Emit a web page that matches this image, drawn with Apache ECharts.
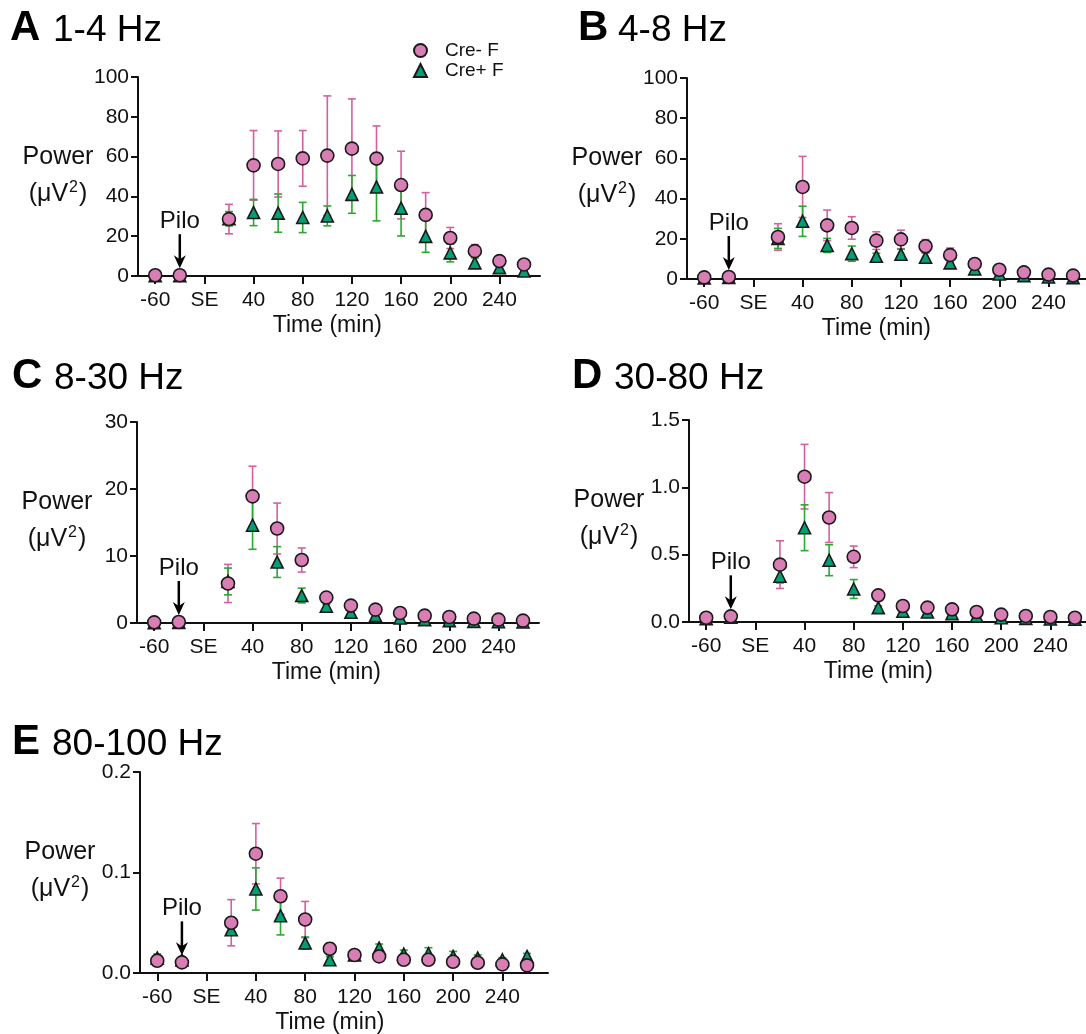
<!DOCTYPE html>
<html>
<head>
<meta charset="utf-8">
<script src="https://cdn.jsdelivr.net/npm/echarts@6/dist/echarts.min.js"></script>
<style>
  html, body { margin: 0; padding: 0; background: #fff; }
  #chart { width: 1086px; height: 1034px; }
</style>
</head>
<body>
<div id="chart"></div>
<script>
// x slots: -60 baseline, Pilo, then 20..260 min after SE onset
var slotX = [-40, -20, 20, 40, 60, 80, 100, 120, 140, 160, 180, 200, 220, 240, 260];
var tickX = [-40, 0, 40, 80, 120, 160, 200, 240];
var tickLabels = ['-60', 'SE', '40', '80', '120', '160', '200', '240'];
var piloX = -20;

// 1-4 Hz
var aNegMean = [0.4, 0.4, 28.6, 55.6, 56.3, 59.1, 60.5, 64.0, 59.0, 45.7, 30.7, 19.1, 12.5, 7.5, 5.8];
var aNegSem  = [0.3, 0.3, 7.4, 17.5, 16.6, 14.0, 30.0, 25.0, 16.4, 17.0, 11.2, 5.3, 3.3, 1.2, 1.0];
var aPosMean = [0.2, 0.2, 28.8, 31.9, 31.6, 29.4, 30.2, 41.0, 44.7, 34.1, 19.9, 11.6, 6.6, 4.2, 2.5];
var aPosSem  = [0.2, 0.2, 3.6, 6.6, 9.6, 7.6, 5.0, 9.5, 17.0, 14.0, 8.0, 4.5, 2.5, 1.0, 0.8];
// 4-8 Hz
var bNegMean = [0.8, 1.0, 20.9, 45.8, 26.7, 25.4, 19.1, 19.7, 16.3, 11.9, 7.5, 4.6, 3.3, 2.2, 1.7];
var bNegSem  = [0.3, 0.3, 6.6, 15.2, 7.6, 5.6, 4.4, 4.6, 3.3, 3.5, 2.0, 1.0, 0.8, 0.6, 0.5];
var bPosMean = [0.5, 0.8, 20.2, 28.7, 16.7, 12.6, 11.3, 12.3, 10.8, 8.0, 5.0, 2.5, 1.7, 1.0, 0.7];
var bPosSem  = [0.2, 0.3, 5.0, 7.5, 3.5, 3.8, 1.5, 2.5, 2.2, 1.6, 1.0, 0.5, 0.4, 0.3, 0.2];
// 8-30 Hz
var cNegMean = [0.1, 0.15, 5.9, 18.9, 14.1, 9.4, 3.8, 2.6, 2.0, 1.5, 1.1, 0.9, 0.65, 0.5, 0.35];
var cNegSem  = [0.05, 0.05, 2.85, 4.5, 3.8, 1.8, 0.3, 0.3, 0.2, 0.2, 0.15, 0.1, 0.1, 0.1, 0.05];
var cPosMean = [0.05, 0.1, 6.2, 14.6, 9.1, 4.1, 2.5, 1.6, 1.1, 0.75, 0.5, 0.35, 0.25, 0.2, 0.15];
var cPosSem  = [0.03, 0.05, 2.0, 3.6, 2.3, 1.1, 0.3, 0.2, 0.15, 0.1, 0.1, 0.05, 0.05, 0.05, 0.03];
// 30-80 Hz
var dNegMean = [0.032, 0.042, 0.426, 1.079, 0.776, 0.484, 0.198, 0.119, 0.107, 0.094, 0.074, 0.055, 0.045, 0.037, 0.032];
var dNegSem  = [0.005, 0.006, 0.177, 0.24, 0.185, 0.08, 0.015, 0.03, 0.012, 0.01, 0.01, 0.008, 0.006, 0.005, 0.004];
var dPosMean = [0.025, 0.035, 0.34, 0.70, 0.459, 0.245, 0.107, 0.08, 0.074, 0.062, 0.045, 0.032, 0.027, 0.022, 0.02];
var dPosSem  = [0.004, 0.005, 0.05, 0.17, 0.115, 0.07, 0.012, 0.01, 0.01, 0.008, 0.006, 0.005, 0.004, 0.003, 0.003];
// 80-100 Hz
var eNegMean = [0.0122, 0.0106, 0.050, 0.1187, 0.0764, 0.0532, 0.0241, 0.0179, 0.0165, 0.0132, 0.0132, 0.0112, 0.0102, 0.0086, 0.0076];
var eNegSem  = [0.002, 0.002, 0.023, 0.030, 0.018, 0.018, 0.006, 0.003, 0.003, 0.003, 0.003, 0.003, 0.002, 0.002, 0.002];
var ePosMean = [0.015, 0.013, 0.043, 0.0836, 0.0569, 0.0298, 0.0132, 0.0179, 0.0248, 0.0188, 0.0192, 0.0165, 0.0149, 0.0132, 0.0165];
var ePosSem  = [0.004, 0.003, 0.003, 0.021, 0.019, 0.006, 0.003, 0.002, 0.004, 0.004, 0.006, 0.005, 0.003, 0.002, 0.003];

var FONT = 'Liberation Sans, Arial, sans-serif';
var PINK = '#d97db5', PINK_BAR = '#d4609f';
var GREEN = '#00a074', GREEN_BAR = '#2aa830';

var panels = [
    {letter: 'A', band: '1-4 Hz',   neg: [aNegMean, aNegSem], pos: [aPosMean, aPosSem], yMax: 100, yStep: 20, dec: 0,
     left: 138, top: 77, width: 402, height: 199, xMax: 273, titleX: 10, numX: 53, titleY: 45},
    {letter: 'B', band: '4-8 Hz',   neg: [bNegMean, bNegSem], pos: [bPosMean, bPosSem], yMax: 100, yStep: 20, dec: 0,
     left: 687, top: 78, width: 399, height: 201, xMax: 270.5, titleX: 578, numX: 618, titleY: 45},
    {letter: 'C', band: '8-30 Hz',  neg: [cNegMean, cNegSem], pos: [cPosMean, cPosSem], yMax: 30, yStep: 10, dec: 0,
     left: 137, top: 422, width: 402, height: 201, xMax: 273, titleX: 12, numX: 54, titleY: 393},
    {letter: 'D', band: '30-80 Hz', neg: [dNegMean, dNegSem], pos: [dPosMean, dPosSem], yMax: 1.5, yStep: 0.5, dec: 1,
     left: 689, top: 420, width: 397, height: 202, xMax: 269, titleX: 572, numX: 614, titleY: 393},
    {letter: 'E', band: '80-100 Hz', neg: [eNegMean, eNegSem], pos: [ePosMean, ePosSem], yMax: 0.2, yStep: 0.1, dec: 1,
     left: 140, top: 772, width: 408, height: 201, xMax: 277, titleX: 12, numX: 52, titleY: 759}
];

function pts(mean) {
    return slotX.map(function (x, i) { return [x, mean[i]]; });
}
function bars(mean, sem) {
    return slotX.map(function (x, i) { return [x, mean[i] - sem[i], mean[i] + sem[i]]; });
}
function errRender(color) {
    return function (params, api) {
        var lo = api.coord([api.value(0), api.value(1)]);
        var hi = api.coord([api.value(0), api.value(2)]);
        var w = 4;
        var st = {stroke: color, lineWidth: 1.6};
        return {
            type: 'group',
            children: [
                {type: 'line', shape: {x1: lo[0], y1: lo[1], x2: hi[0], y2: hi[1]}, style: st},
                {type: 'line', shape: {x1: lo[0] - w, y1: lo[1], x2: lo[0] + w, y2: lo[1]}, style: st},
                {type: 'line', shape: {x1: hi[0] - w, y1: hi[1], x2: hi[0] + w, y2: hi[1]}, style: st}
            ]
        };
    };
}

var grids = [], xAxes = [], yAxes = [], series = [];
panels.forEach(function (p, i) {
    grids.push({left: p.left, top: p.top, width: p.width, height: p.height});
    xAxes.push({
        type: 'value', gridIndex: i, min: -54, max: p.xMax,
        axisLine: {onZero: false, lineStyle: {color: '#111', width: 2}},
        axisTick: {length: 8, lineStyle: {width: 2, color: '#111'}, customValues: tickX},
        axisLabel: {
            customValues: tickX, margin: 14, fontSize: 21, color: '#111', fontFamily: FONT,
            formatter: function (v) { var k = tickX.indexOf(v); return k >= 0 ? tickLabels[k] : ''; }
        },
        splitLine: {show: false}
    });
    yAxes.push({
        type: 'value', gridIndex: i, min: 0, max: p.yMax, interval: p.yStep,
        axisLine: {show: true, onZero: false, lineStyle: {color: '#111', width: 2}},
        axisTick: {show: true, length: 7, lineStyle: {width: 2, color: '#111'}},
        axisLabel: {
            margin: 9, fontSize: 21, color: '#111', fontFamily: FONT,
            formatter: function (v) { return v.toFixed(p.dec); }
        },
        splitLine: {show: false}
    });
    series.push({
        type: 'custom', name: 'Cre- F err', xAxisIndex: i, yAxisIndex: i, z: 2,
        renderItem: errRender(PINK_BAR), data: bars(p.neg[0], p.neg[1]), silent: true
    });
    series.push({
        type: 'custom', name: 'Cre+ F err', xAxisIndex: i, yAxisIndex: i, z: 3,
        renderItem: errRender(GREEN_BAR), data: bars(p.pos[0], p.pos[1]), silent: true
    });
    series.push({
        type: 'scatter', name: 'Cre+ F', xAxisIndex: i, yAxisIndex: i, z: 4,
        symbol: 'triangle', symbolSize: 12,
        itemStyle: {color: GREEN, borderColor: '#1a1a1a', borderWidth: 1.6, opacity: 1},
        data: pts(p.pos[0])
    });
    series.push({
        type: 'scatter', name: 'Cre- F', xAxisIndex: i, yAxisIndex: i, z: 5,
        symbol: 'circle', symbolSize: 13,
        itemStyle: {color: PINK, borderColor: '#1a1a1a', borderWidth: 1.6, opacity: 1},
        data: pts(p.neg[0])
    });
});

var chart = echarts.init(document.getElementById('chart'));
chart.setOption({
    animation: false,
    backgroundColor: '#fff',
    grid: grids,
    xAxis: xAxes,
    yAxis: yAxes,
    legend: {
        data: ['Cre- F', 'Cre+ F'], orient: 'vertical', left: 408, top: 36,
        itemWidth: 13, itemHeight: 13, itemGap: 1,
        textStyle: {fontSize: 19, color: '#111', fontFamily: FONT, padding: [0, 0, 0, 13]}
    },
    series: series
});

// annotations placed from the axes
var gfx = [];
panels.forEach(function (p, i) {
    gfx.push({type: 'text', style: {text: p.letter, x: p.titleX, y: p.titleY + 4, font: 'bold 42px ' + FONT, fill: '#000', verticalAlign: 'bottom'}});
    gfx.push({type: 'text', style: {text: p.band, x: p.numX, y: p.titleY + 4, font: '37px ' + FONT, fill: '#000', verticalAlign: 'bottom'}});
    gfx.push({type: 'text', style: {text: 'Power', x: p.left - 80, y: p.top + 80, font: '25px ' + FONT, fill: '#111', align: 'center', verticalAlign: 'middle'}});
    gfx.push({type: 'text', style: {
        text: '{a|(\u03bcV}{s|2}{a|)}', x: p.left - 80, y: p.top + 117, align: 'center', verticalAlign: 'middle',
        rich: {
            a: {font: '25px ' + FONT, fill: '#111', lineHeight: 28},
            s: {font: '16px ' + FONT, fill: '#111', lineHeight: 28, padding: [0, 1, 12, 1]}
        }
    }});

    var mid = chart.convertToPixel({gridIndex: i}, [100, 0]);
    gfx.push({type: 'text', style: {text: 'Time (min)', x: mid[0], y: p.top + p.height + 50, font: '23px ' + FONT, fill: '#111', align: 'center', verticalAlign: 'middle'}});

    var pp = chart.convertToPixel({gridIndex: i}, [piloX, p.neg[0][1]]);
    var yEnd = pp[1] - 7, yStart = yEnd - 34;
    gfx.push({type: 'line', shape: {x1: pp[0], y1: yStart, x2: pp[0], y2: yEnd - 6}, style: {stroke: '#000', lineWidth: 2.5}});
    gfx.push({type: 'polygon', shape: {points: [[pp[0], yEnd], [pp[0] - 6, yEnd - 13], [pp[0], yEnd - 9], [pp[0] + 6, yEnd - 13]]}, style: {fill: '#000'}});
    gfx.push({type: 'text', style: {text: 'Pilo', x: pp[0], y: yStart - 13, font: '24px ' + FONT, fill: '#111', align: 'center', verticalAlign: 'middle'}});
});
chart.setOption({graphic: gfx});
</script>
</body>
</html>
